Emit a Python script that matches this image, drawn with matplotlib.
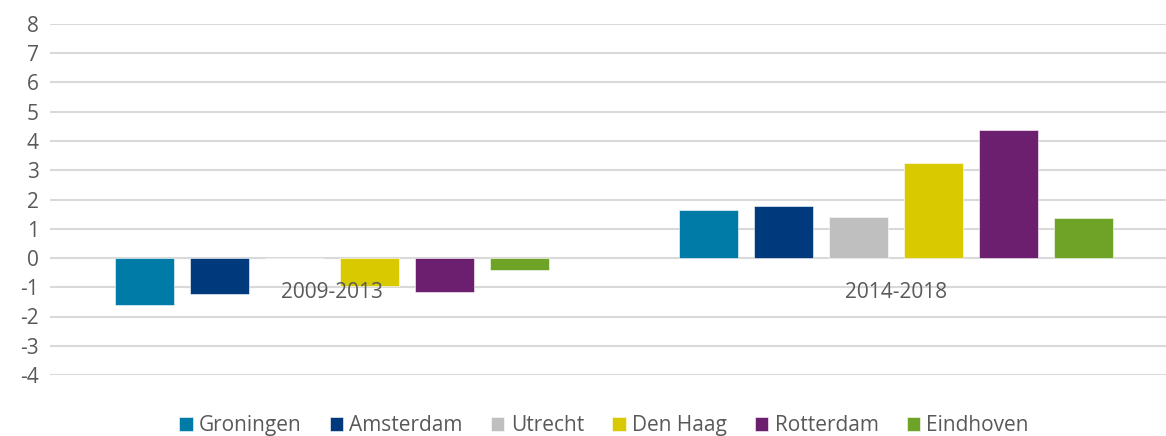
import matplotlib.pyplot as plt
import numpy as np

plt.rcParams["axes.unicode_minus"] = False

# data
periods = ["2009-2013", "2014-2018"]
cities = ["Groningen", "Amsterdam", "Utrecht", "Den Haag", "Rotterdam", "Eindhoven"]
groningen = [-1.60, 1.64]
amsterdam = [-1.23, 1.79]
utrecht = [0.0, 1.39]
den_haag = [-0.95, 3.24]
rotterdam = [-1.15, 4.38]
eindhoven = [-0.42, 1.36]
colors = ["#007AA6", "#003A7C", "#BFBFBF", "#D8C900", "#6C1F6E", "#6EA327"]

series = [groningen, amsterdam, utrecht, den_haag, rotterdam, eindhoven]

fig = plt.figure(figsize=(11.66, 4.36), dpi=100)
ax = fig.add_axes([50 / 1166, 61 / 436, 1128 / 1166, 351 / 436])

x = np.arange(len(periods))
pitch = 0.133
width = 0.103
for i, (name, vals, c) in enumerate(zip(cities, series, colors)):
    offs = (i - 2.5) * pitch
    ax.bar(x + offs, vals, width, color=c, label=name,
           edgecolor="white", linewidth=0.4, zorder=3)

ax.set_xlim(-0.5, 1.5)
ax.set_ylim(-4, 8)
ax.set_yticks(range(-4, 9))
ax.yaxis.grid(True, color="#D9D9D9", linewidth=1.5, zorder=0)
ax.set_xticks([])
for s in ax.spines.values():
    s.set_visible(False)
ax.tick_params(axis="y", length=0, pad=8, labelsize=15, labelcolor="#595959")
for lab in ax.get_yticklabels():
    lab.set_fontfamily("Open Sans")

# category labels next to the zero line
for xi, p in zip(x, periods):
    ax.annotate(p, xy=(xi, 0), xytext=(0, -25), textcoords="offset points",
                ha="center", va="center", fontsize=15, color="#595959",
                family="Open Sans", zorder=4)

leg = fig.legend(loc="center", bbox_to_anchor=(0.518, 0.024), ncol=6,
                 frameon=False, handlelength=0.65, handleheight=0.65,
                 handletextpad=0.3, columnspacing=1.35,
                 prop={"family": "Open Sans", "size": 15})
for t in leg.get_texts():
    t.set_color("#595959")

fig.savefig("out.png", dpi=100)
